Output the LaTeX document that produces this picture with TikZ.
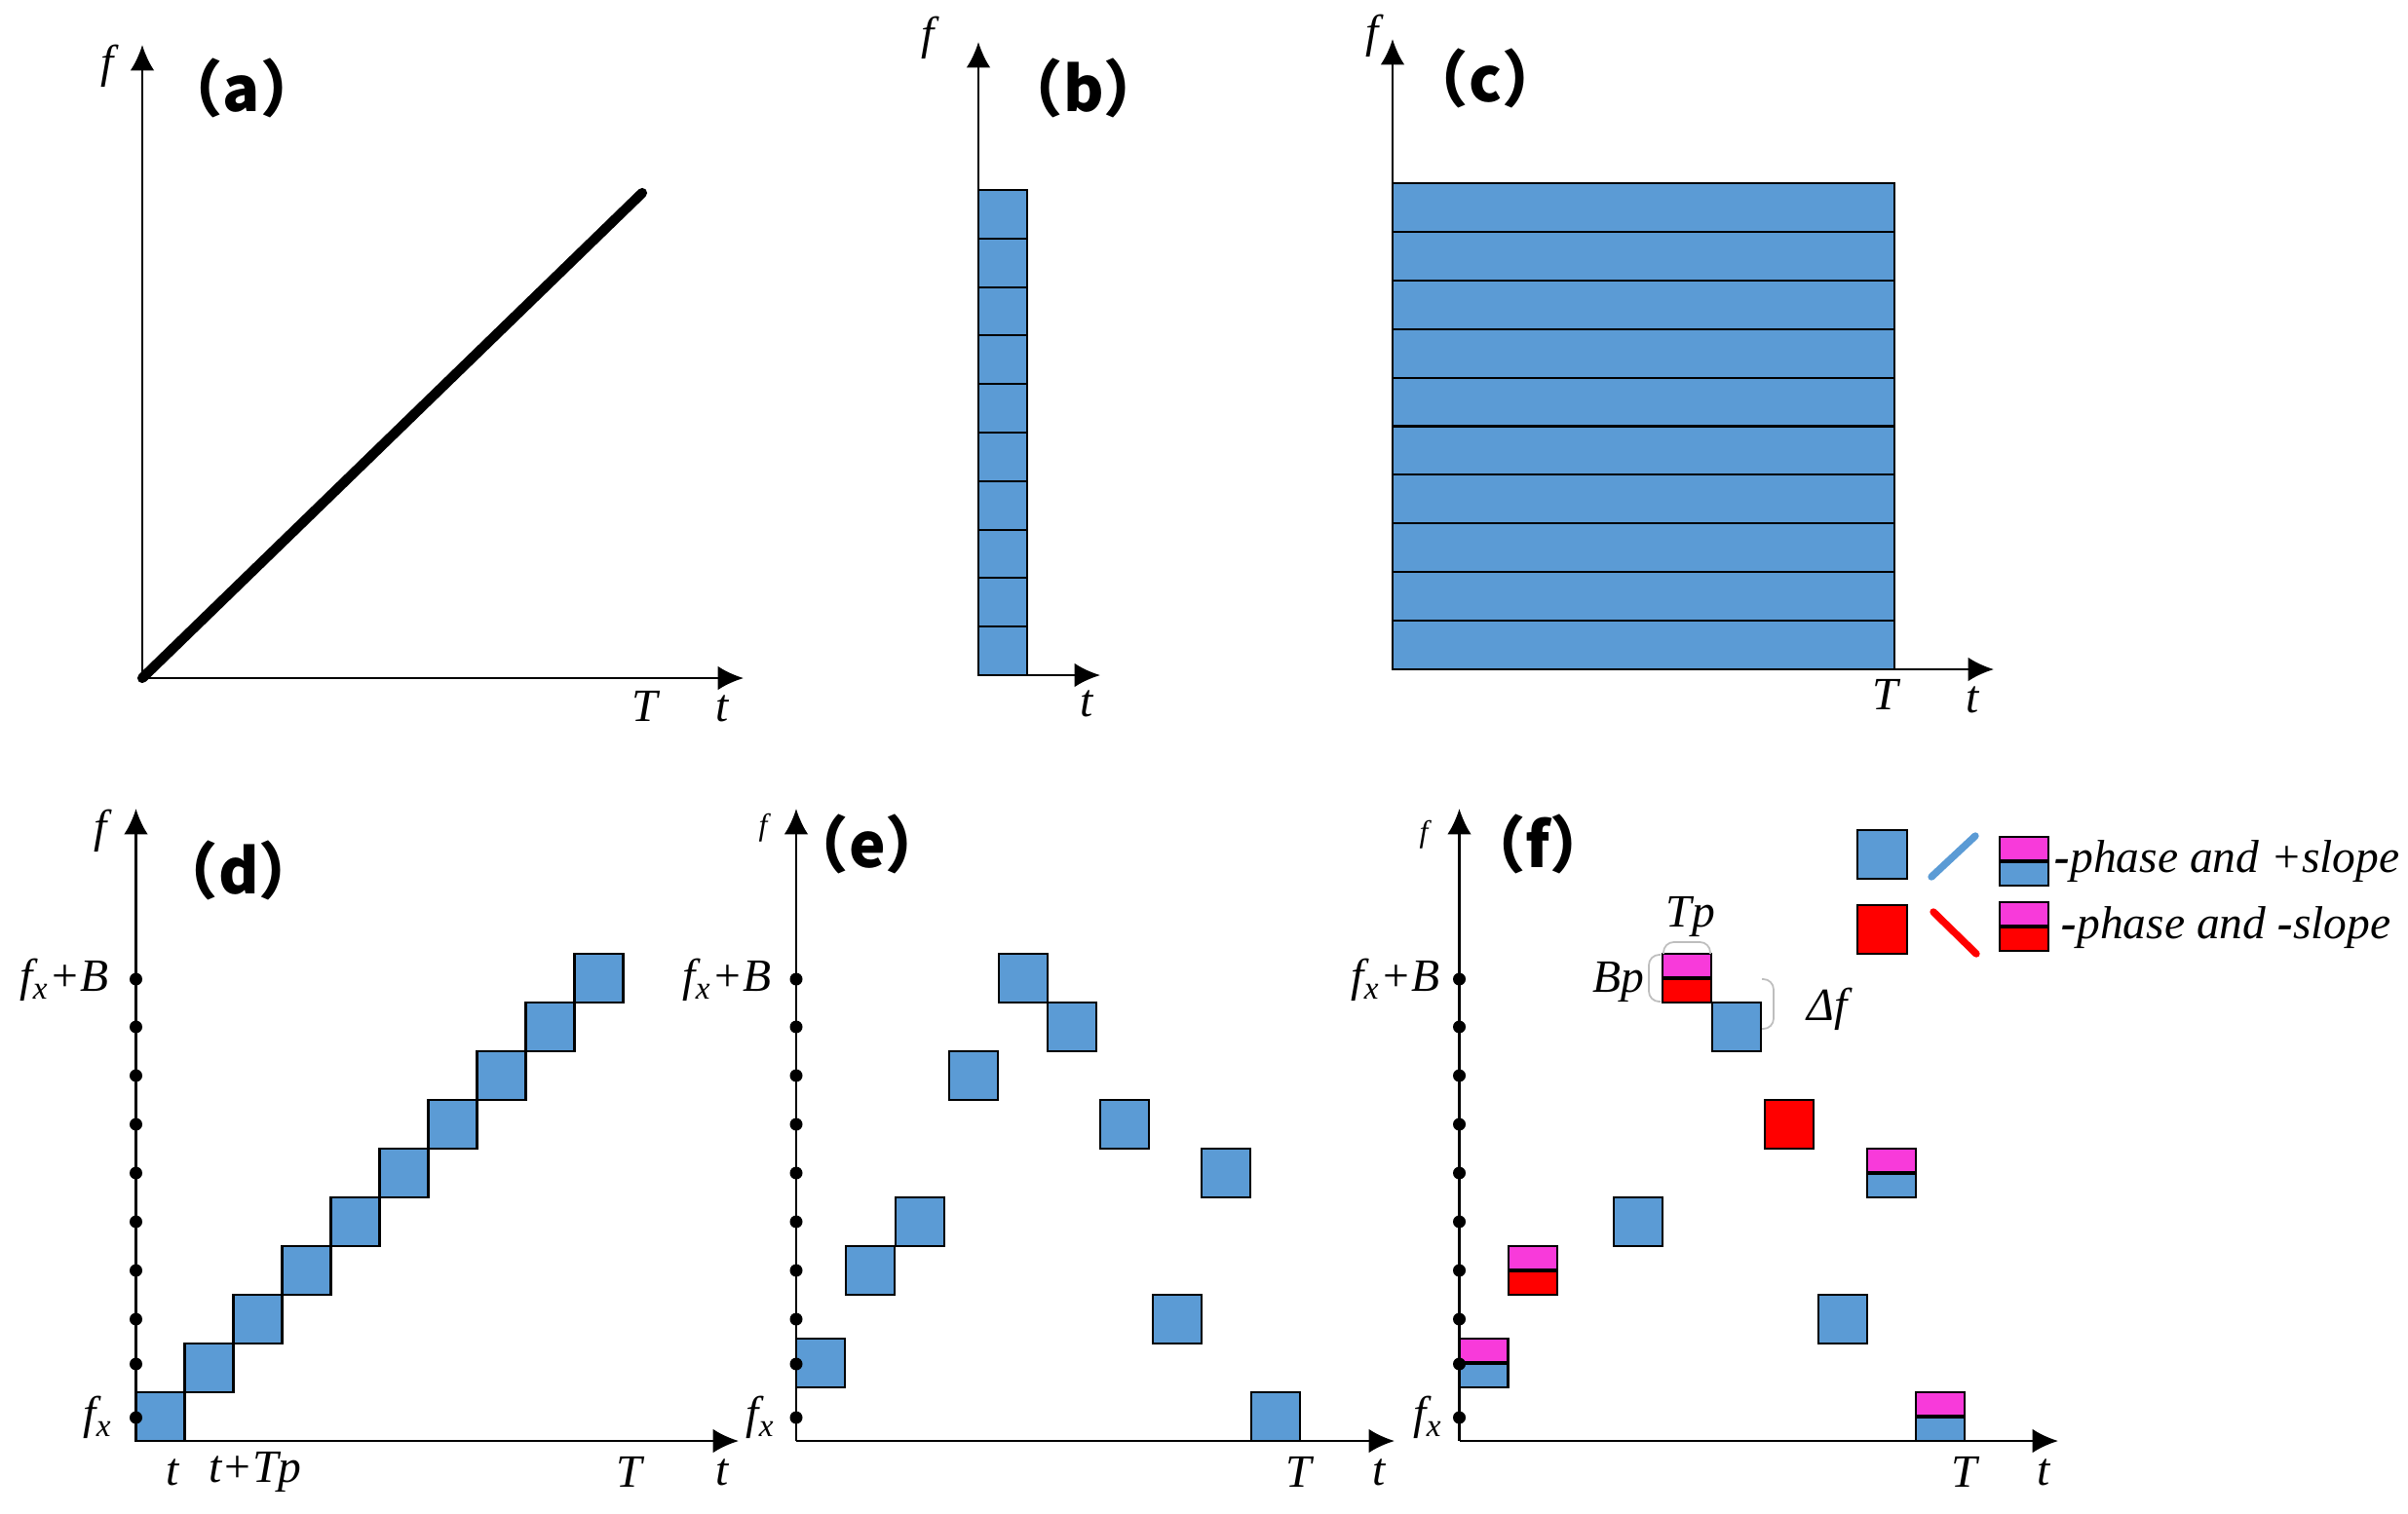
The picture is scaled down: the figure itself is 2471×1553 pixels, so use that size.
\documentclass[tikz,border=0pt]{standalone}
\usepackage{fontspec}
\setmainfont{Liberation Serif}
\newfontfamily\cjkf{Noto Sans CJK SC}
\usetikzlibrary{arrows.meta}
\definecolor{myblue}{RGB}{91,155,213}
\definecolor{myred}{RGB}{255,0,0}
\definecolor{mymag}{RGB}{248,58,218}
\definecolor{brkgray}{RGB}{190,190,190}
\newcommand\splitbox[4]{%
  \node[cell, fill=#4] (#1) at (#2,#3) {};
  \fill[mymag] (#1.north west) rectangle (#1.east);
  \draw[line width=0.6pt] (#1.north west) rectangle (#1.south east);
  \draw[line width=1.1pt] (#1.west) -- (#1.east);
}
\begin{document}
\begin{tikzpicture}[x=0.01cm,y=-0.01cm,
  axis/.style={line width=0.75pt,-{Latex[length=7.5pt,width=7pt]}},
  lab/.style={font=\fontsize{13.5}{16}\selectfont\itshape, inner sep=0pt},
  slab/.style={font=\fontsize{9}{11}\selectfont\itshape, inner sep=0pt},
  plab/.style={font=\cjkf\bfseries\fontsize{18}{20}\selectfont, inner sep=0pt},
  cell/.style={draw=black, line width=0.6pt, minimum width=0.5cm, minimum height=0.5cm, inner sep=0pt, outer sep=0pt, anchor=south west},
  dot/.style={circle, fill=black, minimum size=0.13cm, inner sep=0pt},
  brk/.style={draw=brkgray, line width=0.5pt, rounded corners=3pt},
]
\useasboundingbox (0,0) rectangle (2471,1553);

% ---------------- (a)
\coordinate (oa) at (146,696);
\coordinate (ya) at (146,46);
\coordinate (xa) at (763,696);
\coordinate (la) at (659,198);
\draw[axis] (oa) -- (ya);
\draw[axis] (oa) -- (xa);
\draw[line width=2.9pt, line cap=round] (oa) -- (la);
\node[lab] (fa) at (110,68) {f};
\node[lab] (Ta) at (662,725) {T};
\node[lab] (ta) at (741,727) {t};
\node[plab] (pa) at (248,90) {（a）};

% ---------------- (b)
\foreach \k in {0,...,9}
  \node[cell, fill=myblue, minimum height=0.498cm] (b\k) at (1004,{693-49.8*\k}) {};
\coordinate (ob) at (1004,693);
\coordinate (yb) at (1004,43);
\coordinate (xb) at (1129,693);
\draw[axis] (ob) -- (yb);
\draw[axis] (ob) -- (xb);
\node[lab] (fb) at (952,39) {f};
\node[lab] (tb) at (1115,722) {t};
\node[plab] (pb) at (1112,90) {（b）};

% ---------------- (c)
\foreach \k in {0,...,9}
  \node[cell, fill=myblue, minimum width=5.15cm, minimum height=0.499cm] (c\k) at (1429,{687-49.9*\k}) {};
\coordinate (oc) at (1429,687);
\coordinate (yc) at (1429,40);
\coordinate (xc) at (2046,687);
\draw[axis] (oc) -- (yc);
\draw[axis] (oc) -- (xc);
\node[lab] (fc) at (1408,37) {f};
\node[lab] (Tc) at (1935,713) {T};
\node[lab] (tc) at (2024,718) {t};
\node[plab] (pc) at (1524,80) {（c）};

% ---------------- (d)
\foreach \k in {0,...,9}
  \node[cell, fill=myblue] (d\k) at ({139.5+50*\k},{1479-50*\k}) {};
\coordinate (od) at (139.5,1479);
\coordinate (yd) at (139.5,830);
\coordinate (xd) at (758,1479);
\draw[axis] (od) -- (yd);
\draw[axis] (od) -- (xd);
\foreach \yy [count=\i] in {1455,1400,1354,1304,1254,1204,1154,1104,1054,1005}
  \node[dot] (dd\i) at (139.5,\yy) {};
\node[lab] (fd) at (103,853) {f};
\node[lab, anchor=east] (fBd) at (112,1006) {f\textsubscript{x}+B};
\node[lab, anchor=east] (fxd) at (116,1455) {f\textsubscript{x}};
\node[lab] (td1) at (177,1511) {t};
\node[lab] (td2) at (262,1511) {t+Tp};
\node[lab] (Td) at (646,1511) {T};
\node[lab] (td3) at (741,1511) {t};
\node[plab] (pd) at (245,893) {（d）};

% ---------------- (e)
\foreach \x/\r [count=\i] in {817/1.1, 868/3, 919/4, 974/7, 1025/9, 1075/8, 1129/6, 1233/5, 1183/2, 1284/0}
  \node[cell, fill=myblue] (e\i) at (\x,{1479-50*\r}) {};
\coordinate (oe) at (817,1479);
\coordinate (ye) at (817,830);
\coordinate (xe) at (1431,1479);
\draw[axis] (oe) -- (ye);
\draw[axis] (oe) -- (xe);
\foreach \yy [count=\i] in {1455,1400,1354,1304,1254,1204,1154,1104,1054,1005}
  \node[dot] (de\i) at (817,\yy) {};
\node[slab] (fe) at (783,850) {f};
\node[lab, anchor=east] (fBe) at (792,1006) {f\textsubscript{x}+B};
\node[lab, anchor=east] (fxe) at (796,1455) {f\textsubscript{x}};
\node[lab] (Te) at (1333,1511) {T};
\node[lab] (te) at (1415,1511) {t};
\node[plab] (pe) at (890,866) {（e）};

% ---------------- (f)
\splitbox{f1}{1497.5}{1424}{myblue}
\splitbox{f2}{1548}{1329}{myred}
\node[cell, fill=myblue] (f3) at (1656,1279) {};
\splitbox{f4}{1706}{1029}{myred}
\node[cell, fill=myblue] (f5) at (1757,1079) {};
\node[cell, fill=myred] (f6) at (1811,1179) {};
\splitbox{f7}{1916}{1229}{myblue}
\node[cell, fill=myblue] (f8) at (1866,1379) {};
\splitbox{f9}{1966}{1479}{myblue}
\coordinate (of) at (1497.5,1479);
\coordinate (yf) at (1497.5,830);
\coordinate (xf) at (2112,1479);
\draw[axis] (of) -- (yf);
\draw[axis] (of) -- (xf);
\foreach \yy [count=\i] in {1455,1400,1354,1304,1254,1204,1154,1104,1054,1005}
  \node[dot] (df\i) at (1497.5,\yy) {};
\node[slab] (ff) at (1461,857) {f};
\node[lab, anchor=east] (fBf) at (1478,1006) {f\textsubscript{x}+B};
\node[lab, anchor=east] (fxf) at (1481,1455) {f\textsubscript{x}};
\node[lab] (Tf) at (2016,1511) {T};
\node[lab] (tf) at (2097,1511) {t};
\node[plab] (pf) at (1578,866) {（f）};

% brackets and annotations
\draw[brk] (1707,979) -- (1707,967) -- (1755,967) -- (1755,979);
\draw[brk] (1704,980) -- (1692,980) -- (1692,1028) -- (1704,1028);
\draw[brk] (1808,1005) -- (1820,1005) -- (1820,1056) -- (1808,1056);
\node[lab] (Tp) at (1735,941) {Tp};
\node[lab] (Bp) at (1661,1008) {Bp};
\node[lab] (Df) at (1875,1036) {Δf};

% legend
\node[cell, fill=myblue, minimum width=0.51cm] (lgb) at (1906,902) {};
\coordinate (lbl1) at (1982,900);
\coordinate (lbl2) at (2027,858);
\draw[myblue, line width=2.1pt, line cap=round] (lbl1) -- (lbl2);
\splitbox{lgs1}{2051.6}{909}{myblue}
\node[lab, anchor=west] (lt1) at (2108,884) {\textbf{-}phase and +slope};
\node[cell, fill=myred, minimum width=0.51cm] (lgr) at (1906,979) {};
\coordinate (lrl1) at (1984,936);
\coordinate (lrl2) at (2028,979);
\draw[myred, line width=2.1pt, line cap=round] (lrl1) -- (lrl2);
\splitbox{lgs2}{2051.6}{976}{myred}
\node[lab, anchor=west] (lt2) at (2115,952) {\textbf{-}phase and \textbf{-}slope};
\end{tikzpicture}
\end{document}
